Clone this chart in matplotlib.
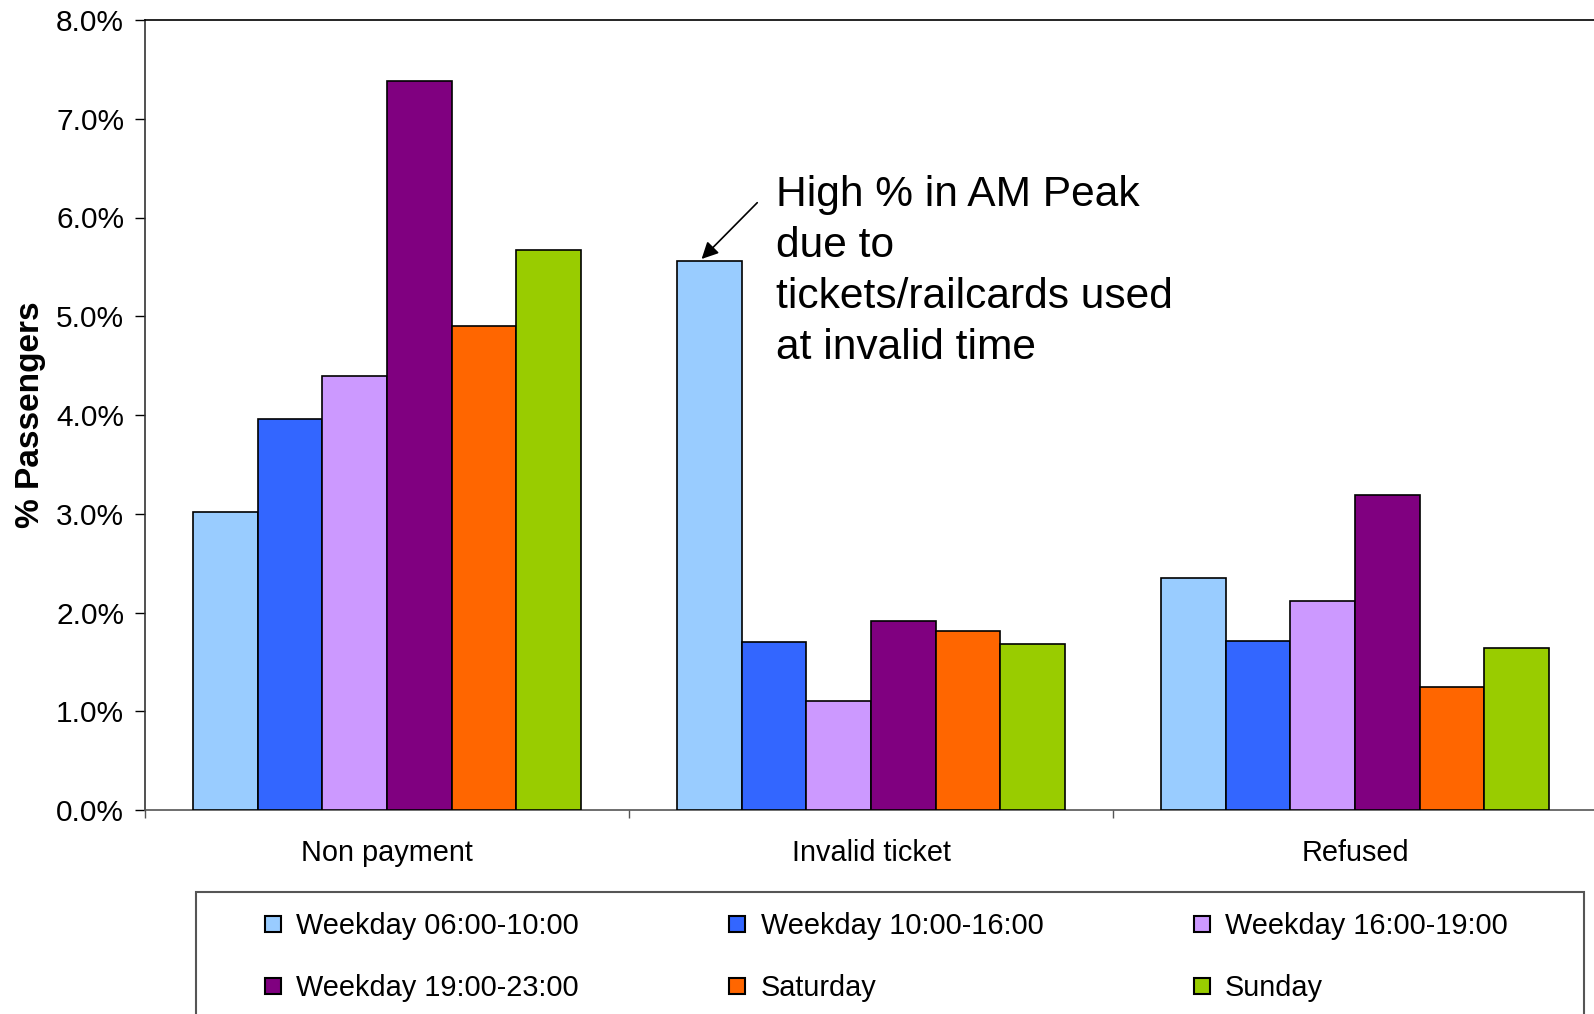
import matplotlib
matplotlib.use("Agg")
import matplotlib.pyplot as plt
import numpy as np
from matplotlib.lines import Line2D
from matplotlib.patches import Rectangle
from matplotlib.ticker import PercentFormatter, FixedLocator

plt.rcParams['font.family'] = ['Liberation Sans', 'DejaVu Sans']

categories = ['Non payment', 'Invalid ticket', 'Refused']
series = ['Weekday 06:00-10:00', 'Weekday 10:00-16:00', 'Weekday 16:00-19:00',
          'Weekday 19:00-23:00', 'Saturday', 'Sunday']
colors = ['#99CCFF', '#3366FF', '#CC99FF', '#800080', '#FF6600', '#99CC00']

# % passengers, one list per time band (Non payment, Invalid ticket, Refused)
wd_0610 = [3.02, 5.56, 2.35]
wd_1016 = [3.96, 1.70, 1.71]
wd_1619 = [4.39, 1.10, 2.12]
wd_1923 = [7.38, 1.91, 3.19]
saturday = [4.90, 1.81, 1.25]
sunday = [5.67, 1.68, 1.64]
values = [wd_0610, wd_1016, wd_1619, wd_1923, saturday, sunday]

fig = plt.figure(figsize=(15.94, 10.14), dpi=100)
ax = fig.add_axes([145 / 1594, 1 - 810 / 1014, 1452 / 1594, 790 / 1014])

x = np.arange(len(categories))
w = 0.8 / len(series)
for i, (vals, col) in enumerate(zip(values, colors)):
    ax.bar(x - 0.4 + w * (i + 0.5), vals, width=w, color=col,
           edgecolor='black', linewidth=1.2, label=series[i], zorder=3)

ax.set_xlim(-0.5, 2.5)
ax.set_ylim(0, 8)
ax.set_yticks(np.arange(0, 9, 1))
ax.yaxis.set_major_formatter(PercentFormatter(decimals=1))
ax.tick_params(axis='y', labelsize=21.5, length=7, width=1, direction='out', pad=8)

ax.xaxis.set_major_locator(FixedLocator([-0.5, 0.5, 1.5, 2.5]))
ax.xaxis.set_minor_locator(FixedLocator(x))
ax.set_xticklabels(categories, minor=True)
ax.tick_params(axis='x', which='major', length=6, width=1, color='#555555', labelbottom=False)
ax.tick_params(axis='x', which='minor', length=0, labelsize=20.8, pad=21)

ax.spines['right'].set_visible(False)
ax.spines['left'].set_color('#333333')
ax.spines['bottom'].set_color('#555555')
ax.spines['top'].set_color('black')
for s in ax.spines.values():
    s.set_linewidth(1.2)

ax.set_ylabel('% Passengers', fontsize=24, fontweight='bold', va='center')
ax.yaxis.set_label_coords(-0.079, 0.5)

# arrow pointing at the AM peak bar, note beside it
ax.annotate('', xy=(0.650, 5.58), xytext=(0.765, 6.15),
            arrowprops=dict(arrowstyle='-|>', color='black', lw=1.2,
                            shrinkA=0, shrinkB=0, mutation_scale=25))
ax.text(0.803, 6.43, 'High % in AM Peak\ndue to\ntickets/railcards used\nat invalid time',
        fontsize=30.6, va='top', ha='left', linespacing=1.35)

# legend frame, running off the bottom of the figure
fig.add_artist(Rectangle((196 / 1594, -0.05), 1388 / 1594, 0.05 + 1 - 892 / 1014,
                         transform=fig.transFigure, fill=False,
                         edgecolor='#555555', linewidth=1.5))

handles = [Line2D([], [], marker='s', linestyle='none', markersize=12,
                  markerfacecolor=c, markeredgecolor='black', markeredgewidth=1.5)
           for c in colors]
order = [0, 3, 1, 4, 2, 5]
fig.legend([handles[i] for i in order], [series[i] for i in order],
           loc='upper left', bbox_to_anchor=(247 / 1594, 1 - 898 / 1014), ncol=3,
           frameon=False, fontsize=20.8, handlelength=0.8, handletextpad=0.4,
           columnspacing=5.09, labelspacing=1.15, borderpad=0)

fig.savefig('out.png', dpi=100)
